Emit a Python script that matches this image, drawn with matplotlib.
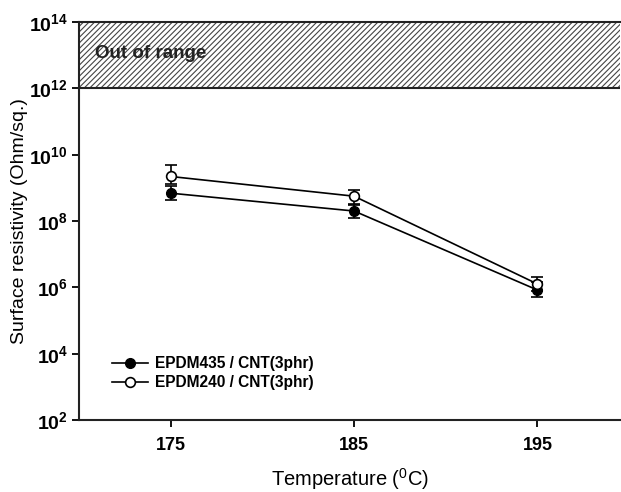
import math
import matplotlib
matplotlib.use('Agg')
import matplotlib.pyplot as plt
from matplotlib.lines import Line2D
from matplotlib.ticker import FixedLocator, FuncFormatter

plt.rcParams['font.family'] = ['Liberation Sans', 'DejaVu Sans']
plt.rcParams['mathtext.fontset'] = 'custom'
plt.rcParams['mathtext.rm'] = 'Liberation Sans'
plt.rcParams['mathtext.bf'] = 'Liberation Sans:bold'
plt.rcParams['hatch.linewidth'] = 0.8

# Data
temperature = [175, 185, 195]
epdm435 = [6.9e8, 2.0e8, 8.3e5]
epdm435_low = [4.3e8, 1.2e8, 5.1e5]
epdm435_high = [1.15e9, 3.0e8, 1.4e6]
epdm240 = [2.2e9, 5.6e8, 1.26e6]
epdm240_low = [1.3e9, 3.2e8, 8.0e5]
epdm240_high = [4.9e9, 8.7e8, 2.0e6]

range_low, range_high = 1e12, 1e14
y_ticks = [1e2, 1e4, 1e6, 1e8, 1e10, 1e12, 1e14]
x_ticks = [175, 185, 195]

fig = plt.figure(figsize=(6.21, 4.92), dpi=100)
ax = fig.add_axes([0.1272, 0.1463, 0.8712, 0.809])

# Out of range band
ax.axhspan(range_low, range_high, facecolor='white', edgecolor='#444444',
           hatch='//////', linewidth=0, zorder=0)
ax.axhline(range_low, color='#222222', lw=1.5, zorder=1)
ax.text(170.9, 1.1e13, 'Out of range', fontsize=13.5, fontweight='bold',
        color='#222222', va='center', ha='left', zorder=2)


def err(vals, low, high):
    return [[v - l for v, l in zip(vals, low)], [h - v for v, h in zip(vals, high)]]


ax.errorbar(temperature, epdm435, yerr=err(epdm435, epdm435_low, epdm435_high),
            color='black', marker='o', markersize=7, markerfacecolor='black',
            markeredgecolor='black', lw=1.2, capsize=4, capthick=1.2, elinewidth=1.2,
            zorder=4)
ax.errorbar(temperature, epdm240, yerr=err(epdm240, epdm240_low, epdm240_high),
            color='black', marker='o', markersize=7, markerfacecolor='white',
            markeredgecolor='black', markeredgewidth=1.2, lw=1.2, capsize=4,
            capthick=1.2, elinewidth=1.2, zorder=5)

ax.set_yscale('log')
ax.set_ylim(range_low / 1e10, range_high)
ax.set_xlim(170, 199.5)
ax.yaxis.set_major_locator(FixedLocator(y_ticks))
ax.yaxis.set_minor_locator(FixedLocator([]))
ax.yaxis.set_major_formatter(FuncFormatter(
    lambda v, pos: r'$\mathbf{10^{%d}}$' % round(math.log10(v))))
ax.xaxis.set_major_locator(FixedLocator(x_ticks))

ax.tick_params(axis='both', direction='out', length=5, width=1.3)
ax.tick_params(axis='x', pad=7, labelsize=13)
ax.tick_params(axis='y', pad=3, labelsize=14)
for lab in ax.get_xticklabels():
    lab.set_fontweight('bold')

ax.spines['right'].set_visible(False)
for side in ['left', 'bottom', 'top']:
    ax.spines[side].set_linewidth(1.5)
    ax.spines[side].set_color('#222222')

ax.set_xlabel(r'Temperature ($^{0}$C)', fontsize=14.5, labelpad=9)
ax.set_ylabel('Surface resistivity (Ohm/sq.)', fontsize=14, labelpad=1)

handles = [
    Line2D([], [], color='black', lw=1.2, marker='o', markersize=7,
           markerfacecolor='black', markeredgecolor='black'),
    Line2D([], [], color='black', lw=1.2, marker='o', markersize=7,
           markerfacecolor='white', markeredgecolor='black', markeredgewidth=1.2),
]
labels = ['EPDM435 / CNT(3phr)', 'EPDM240 / CNT(3phr)']
leg = ax.legend(handles, labels, loc='lower left', bbox_to_anchor=(0.035, 0.04),
                frameon=False, fontsize=11.2, handlelength=2.3, handletextpad=0.5,
                labelspacing=0.25)
for t in leg.get_texts():
    t.set_fontweight('bold')

fig.savefig('out.png', dpi=100)
